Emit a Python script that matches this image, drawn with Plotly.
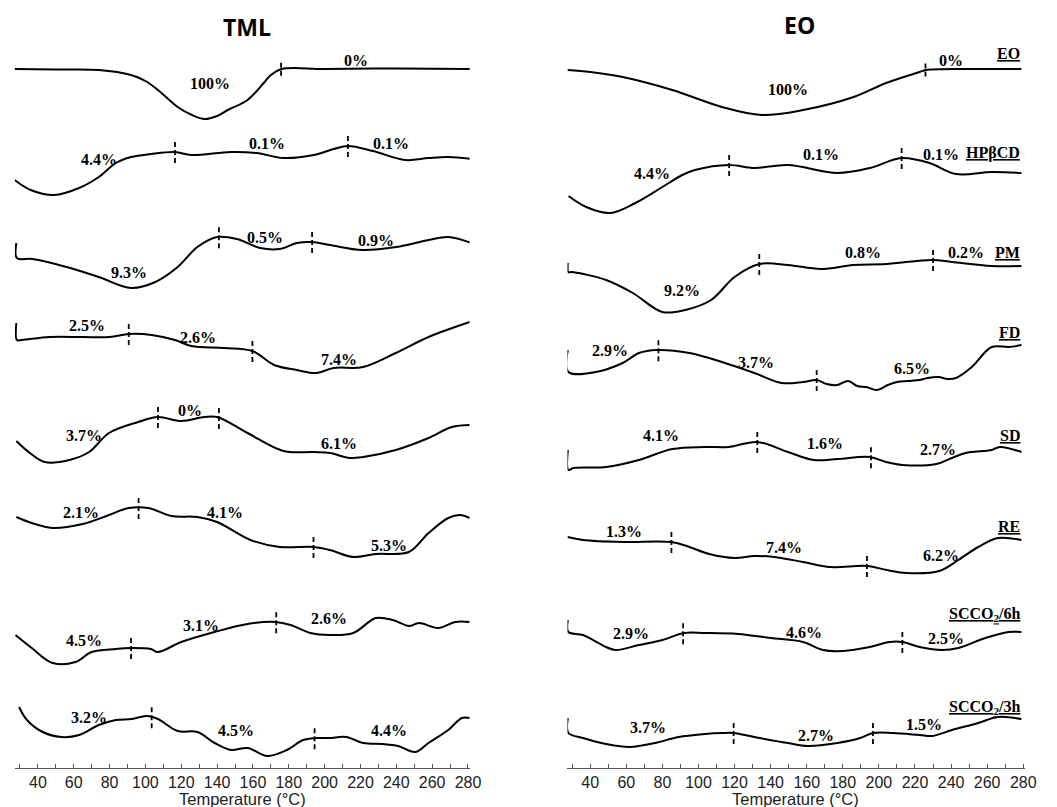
import numpy as np
import plotly.graph_objects as go

# ---------------------------------------------------------------------------
# DTG curves (temperature in °C, signal in arbitrary units, up = positive)
# ---------------------------------------------------------------------------
SAMPLES_TML = ["TML", "HPβCD", "PM", "FD", "SD", "RE",
               "SCCO<sub>2</sub>/6h", "SCCO<sub>2</sub>/3h"]
SAMPLES_EO = ["EO", "HPβCD", "PM", "FD", "SD", "RE",
              "SCCO<sub>2</sub>/6h", "SCCO<sub>2</sub>/3h"]

# --- TML series ---
L_TML_T = [27, 50, 74, 92, 100, 107, 118, 126, 133, 140, 146, 157, 166, 170, 176, 200, 240, 282]
L_TML_S = [0, -0.5, -1, -6, -12, -21, -38, -46, -50, -47, -41, -31, -14, -6, 0, 0, 0.5, 0]

L_HP_T = [27, 36, 49, 63, 74, 83.5, 92, 103, 116.5, 125.6, 147.6, 162, 177, 194, 205, 213, 227, 245, 258, 269, 282]
L_HP_S = [-25, -35, -40, -33, -22, -8, -2, 1, 3, 0, 3, 2, -3, 0, 6, 9, 4, -5, -3, -2, -4]

L_PM_T = [28, 28.3, 37, 56, 74, 92, 105.5, 118, 129, 140, 151, 164, 175, 184.5, 193, 203, 221, 240, 258, 269, 282]
L_PM_S = [7, -8, -9, -17, -27, -38, -32, -17, 3, 13, 11, 2, 1, 7, 8, 5, 0, 3, 10, 13, 7]

L_FD_T = [28, 28.3, 31, 46.5, 65, 80, 91, 103.5, 116.5, 125.6, 144, 159.7, 171.8, 184.5, 195.5, 205, 221.5, 239.7, 258, 281]
L_FD_S = [17, 0, 0, 3, 3, 3, 6, 5, 0, -6, -8, -11, -25, -30, -33, -28, -27, -13, 3, 18]

L_SD_T = [28, 35.5, 43.8, 57.6, 68.6, 79.7, 96, 107, 120, 133, 140, 157, 177, 194, 203, 214, 221.5, 239.7, 258, 271, 281]
L_SD_S = [-1, -13, -22, -20, -12, 7, 18, 23, 19, 23, 23, 7, -11, -12, -13, -18, -17, -10, 2, 13, 15]

L_RE_T = [28, 36.6, 48, 65, 79.7, 90.7, 101.7, 114.5, 129, 140, 158.6, 175, 193.8, 203, 216, 228.6, 247, 258, 269, 275.5, 281]
L_RE_S = [3, -3, -8, -4, 5, 12, 12, 4, 3, -2, -20, -27, -27, -30, -37, -34, -32, -13, 2, 5, 2]

L_6H_T = [27.5, 36.6, 48.3, 61, 70, 83.5, 91.6, 103, 107, 120, 138.6, 157, 172.5, 181, 192, 203, 216, 228.6, 238, 247, 252.6, 263.5, 272.8, 281]
L_6H_S = [5, -8, -23, -22, -12, -9, -8, -9, -12, -2, 8, 16, 18, 15, 7, 5, 7, 22, 20, 14, 17, 12, 18, 18]

L_3H_T = [29.5, 33.9, 42.7, 53, 63, 74, 83.5, 92.4, 100.8, 107, 118, 129, 138.6, 147.6, 157, 168, 179, 188, 195.5, 202.7, 212, 221.5, 232.5, 241, 250.7, 258, 269, 276.6, 281]
L_3H_S = [23, 10, -2, -7, -5, 5, 10, 11, 14, 11, -1, -2, -13, -20, -18, -26, -20, -10, -8, -8, -7, -13, -14, -16, -22, -13, 0, 12, 12]

# --- EO series ---
R_EO_T = [27.4, 40, 58, 85.5, 113, 135, 158, 186, 204, 222.5, 226, 250, 279]
R_EO_S = [0, -2, -7, -20, -37, -45, -40, -27, -13, -2, 0, 1, 1]

R_HP_T = [28, 37.8, 51, 65, 80, 91, 98, 117, 131, 149.6, 177, 195, 212.6, 228, 242.7, 262.5, 279]
R_HP_S = [-26, -37, -43, -33, -17, -5, 0, 5, 2, 5, -3, 2, 12, 7, -4, -2, -3]

R_PM_T = [27.6, 27.9, 30, 48.8, 63.6, 80, 92.6, 107, 120, 133.7, 149.6, 167.7, 185.8, 204, 229.6, 240.5, 262.5, 279]
R_PM_S = [2, -7, -7, -15, -28, -47, -45, -35, -12, 1, 0, -4, 0, 1, 5, 3, -1, -1]

R_FD_T = [27.6, 27.9, 43, 58, 67, 77, 95, 113, 131, 146, 158, 165.5, 171, 177, 183, 188, 193, 199, 205, 210, 216, 222.5, 227, 233, 238, 242.7, 251.5, 262.5, 272, 279]
R_FD_S = [15, -7, -7, 2, 12, 15, 12, 3, -8, -18, -17, -15, -19, -20, -16, -21, -22, -25, -20, -17, -16, -15, -13, -12, -14, -13, -2, 18, 18, 20]

R_SD_T = [27.6, 27.9, 30.7, 48.8, 67, 85.5, 103.6, 116.7, 132.6, 149.6, 164, 177, 195, 204, 213, 231.8, 240.5, 248, 262.5, 267, 279]
R_SD_S = [5, -15, -13, -12, -5, 6, 8, 8, 13, 3, -5, -4, -2, -7, -10, -9, -3, 2, 5, 8, 3]

R_RE_T = [27.4, 36, 58, 85, 95, 106, 120, 131, 142, 158, 173, 193.4, 204.4, 215.3, 233.4, 244, 255, 266, 279]
R_RE_S = [3, 0, -2, -2, -7, -14, -18, -16, -17, -22, -27, -26, -30, -33, -31, -20, -7, 2, 0]

R_6H_T = [27.6, 27.9, 36, 48.8, 54, 67, 80, 92, 103.6, 122, 140, 158, 169, 180, 195, 206, 213, 222.5, 235, 244, 259, 271.8, 279]
R_6H_S = [20, 8, 5, -7, -10, -5, 0, 7, 7, 6, 2, -2, -10, -11, -7, -2, -2, -7, -10, -8, 2, 8, 8]

R_3H_T = [27.6, 27.9, 36, 48.8, 62, 76, 89, 103.6, 113, 119.5, 131, 149.6, 160.5, 177, 189.6, 196.7, 207.7, 222.5, 229.6, 240.5, 255, 266, 279]
R_3H_S = [17, 2, -3, -9, -12, -8, -2, 1, 2, 2, -2, -8, -11, -8, -3, 2, 2, 0, -1, 5, 12, 18, 16]

# Temperatures separating the mass-loss steps
L_CUTS = [[175.7], [116.5, 213], [141, 193], [90.7, 159.7], [107, 141], [96.2, 193.8], [92, 173], [103.5, 194.4]]
R_CUTS = [[225.8], [117, 212.6], [133.7, 230], [77.8, 165.5], [132.6, 195.6], [85, 193.4], [91.5, 213], [119.5, 196.7]]

# Mass loss of each step
L_LOSS = [["100%", "0%"], ["4.4%", "0.1%", "0.1%"], ["9.3%", "0.5%", "0.9%"], ["2.5%", "2.6%", "7.4%"],
          ["3.7%", "0%", "6.1%"], ["2.1%", "4.1%", "5.3%"], ["4.5%", "3.1%", "2.6%"], ["3.2%", "4.5%", "4.4%"]]
R_LOSS = [["100%", "0%"], ["4.4%", "0.1%", "0.1%"], ["9.2%", "0.8%", "0.2%"], ["2.9%", "3.7%", "6.5%"],
          ["4.1%", "1.6%", "2.7%"], ["1.3%", "7.4%", "6.2%"], ["2.9%", "4.6%", "2.5%"], ["3.7%", "2.7%", "1.5%"]]

# ---------------------------------------------------------------------------
# Layout helpers: vertical stacking and label placement
# ---------------------------------------------------------------------------
L_CURVES = [(L_TML_T, L_TML_S), (L_HP_T, L_HP_S), (L_PM_T, L_PM_S), (L_FD_T, L_FD_S),
            (L_SD_T, L_SD_S), (L_RE_T, L_RE_S), (L_6H_T, L_6H_S), (L_3H_T, L_3H_S)]
R_CURVES = [(R_EO_T, R_EO_S), (R_HP_T, R_HP_S), (R_PM_T, R_PM_S), (R_FD_T, R_FD_S),
            (R_SD_T, R_SD_S), (R_RE_T, R_RE_S), (R_6H_T, R_6H_S), (R_3H_T, R_3H_S)]

L_STACK = [699, 613, 518, 428, 328, 248, 128, 38]
R_STACK = [698, 598, 503, 403, 313, 228, 128, 33]

L_LOSS_POS = [[(136, -14), (217.6, 9)], [(74, -4), (168, 12), (237, 12)], [(90.7, -22), (166.8, 13), (228.6, 10)],
              [(67.5, 15), (129.3, 3), (208, -19)], [(65.9, 5), (125, 30), (208, -3)],
              [(64.2, 8), (144.2, 8), (235.8, -25)], [(65.9, 0), (131, 15), (202.7, 22)],
              [(68.6, 13), (150.3, 0), (235.8, 0)]]
R_LOSS_POS = [[(149.6, -19), (240, 10)], [(74.5, -3), (167.7, 16), (234.5, 16)], [(91, -25), (191, 13), (248, 13)],
              [(51, 15), (132, 3), (218.6, -3)], [(79.5, 20), (170.4, 12), (232.9, 6)],
              [(59, 9), (147.4, -7), (234.5, -15)], [(62.5, 7), (158.4, 8), (237.3, 2)],
              [(71.8, 8), (165, 0), (225, 11)]]
L_NAME_DY = [11, 15, 21, 27, 27, 14, 32, 28]
R_NAME_DY = [17, 17, 13, 33, 20, 14, 26, 28]

SERIF = "Liberation Serif"
SANS = "Liberation Sans"

fig = go.Figure()
annotations = []


def add_panel(curves, stack, cuts, losses, loss_pos, names, name_dy, name_x, xref, yref):
    tick_x, tick_y = [], []
    for i, (t, s) in enumerate(curves):
        t = np.asarray(t, float)
        y = np.asarray(s, float) + stack[i]
        fig.add_trace(go.Scatter(x=t, y=y, mode="lines", xaxis=xref, yaxis=yref,
                                 line=dict(color="black", width=2, shape="spline", smoothing=1.0),
                                 hoverinfo="skip", showlegend=False))
        half = 7.5 if i == 0 else 12
        for c in cuts[i]:
            yc = np.interp(c, t, y) + 1
            tick_x += [c, c, None]
            tick_y += [yc - half, yc + half, None]
        for txt, (tx, dy) in zip(losses[i], loss_pos[i]):
            annotations.append(dict(x=tx, y=stack[i] + dy, xref=xref, yref=yref,
                                    text=f"<b>{txt}</b>", showarrow=False,
                                    xanchor="center", yanchor="middle",
                                    font=dict(family=SERIF, size=16, color="black")))
        annotations.append(dict(x=name_x, y=stack[i] + name_dy[i], xref=xref, yref=yref,
                                text=f"<b><u>{names[i]}</u></b>", showarrow=False,
                                xanchor="right", yanchor="middle",
                                font=dict(family=SERIF, size=16, color="black")))
    fig.add_trace(go.Scatter(x=tick_x, y=tick_y, mode="lines", xaxis=xref, yaxis=yref,
                             line=dict(color="black", width=1.8, dash="5px,3px"),
                             hoverinfo="skip", showlegend=False))


add_panel(L_CURVES, L_STACK, L_CUTS, L_LOSS, L_LOSS_POS, SAMPLES_TML, L_NAME_DY, 281, "x", "y")
add_panel(R_CURVES, R_STACK, R_CUTS, R_LOSS, R_LOSS_POS, SAMPLES_EO, R_NAME_DY, 279.5, "x2", "y2")

W, H = 1057, 807
PLOT_H = 768

# Panel titles and axis titles
for txt, px_x, px_y in [("TML", 250, 27), ("EO", 809, 25)]:
    annotations.append(dict(x=px_x / W, y=(PLOT_H - px_y) / PLOT_H, xref="paper", yref="paper",
                            text=f"<b>{txt}</b>", showarrow=False, xanchor="center", yanchor="middle",
                            font=dict(family="Open Sans", size=23, color="black")))
for px_x in [245, 805]:
    annotations.append(dict(x=px_x / W, y=-(799 - PLOT_H) / PLOT_H, xref="paper", yref="paper",
                            text="Temperature (°C)", showarrow=False, xanchor="center", yanchor="middle",
                            font=dict(family=SANS, size=16.5, color="#222")))

xaxis_common = dict(showline=True, linecolor="#555", linewidth=1, ticks="inside", ticklen=4,
                    tickcolor="#555", tick0=40, dtick=20, showgrid=False, zeroline=False,
                    tickfont=dict(family=SANS, size=16, color="#222"),
                    minor=dict(dtick=10, ticks="inside", ticklen=4, tickcolor="#555", showgrid=False))

fig.update_layout(
    width=W, height=H,
    margin=dict(l=0, r=0, t=0, b=H - PLOT_H),
    paper_bgcolor="white", plot_bgcolor="white",
    xaxis=dict(xaxis_common, domain=[15 / W, 475 / W], range=[27.14, 280.9], anchor="y"),
    xaxis2=dict(xaxis_common, domain=[574 / W, 1037 / W], range=[27.4, 281.1], anchor="y2"),
    yaxis=dict(range=[0, PLOT_H], visible=False, domain=[0, 1], anchor="x"),
    yaxis2=dict(range=[0, PLOT_H], visible=False, domain=[0, 1], anchor="x2"),
    annotations=annotations,
    showlegend=False,
)

fig.write_html("out.html")
